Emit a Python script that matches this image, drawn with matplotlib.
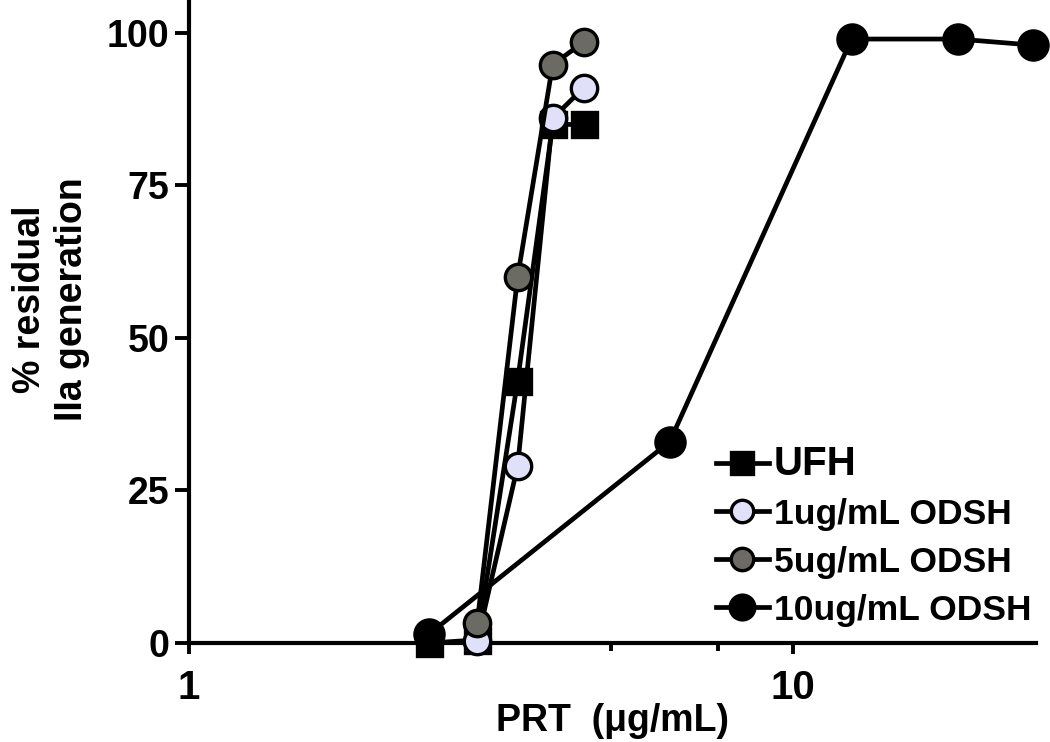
import matplotlib
matplotlib.use("Agg")
import matplotlib.pyplot as plt
from matplotlib.ticker import FixedLocator, NullFormatter

plt.rcParams['font.family'] = ['Liberation Sans', 'DejaVu Sans']

# Data (PRT concentration in ug/mL, % residual IIa generation)
ufh_x = [2.5, 3.0, 3.5, 4.0, 4.5]
ufh_y = [0.0, 0.5, 43.0, 85.0, 85.0]

odsh1_x = [3.0, 3.5, 4.0, 4.5]
odsh1_y = [0.3, 29.0, 86.0, 91.0]

odsh5_x = [3.0, 3.5, 4.0, 4.5]
odsh5_y = [3.3, 60.0, 94.8, 98.5]

odsh10_x = [2.5, 6.25, 12.5, 18.75, 25.0]
odsh10_y = [1.5, 33.0, 99.0, 99.0, 98.0]

labels = ["UFH", "1ug/mL ODSH", "5ug/mL ODSH", "10ug/mL ODSH"]

fig = plt.figure(figsize=(10.5, 7.42), dpi=100)
ax = fig.add_axes([189/1050, 1-643/742, (1036-189)/1050, 643/742])

lw = 3.4
mew = 2.4
ax.plot(ufh_x, ufh_y, color='black', lw=lw, marker='s', ms=18, mfc='black',
        mec='black', mew=mew, clip_on=False, label=labels[0], zorder=3)
ax.plot(odsh1_x, odsh1_y, color='black', lw=lw, marker='o', ms=19, mfc='#e0e0f8',
        mec='black', mew=mew, clip_on=False, label=labels[1], zorder=4)
ax.plot(odsh5_x, odsh5_y, color='black', lw=lw, marker='o', ms=19, mfc='#6b6b64',
        mec='black', mew=mew, clip_on=False, label=labels[2], zorder=5)
ax.plot(odsh10_x, odsh10_y, color='black', lw=lw, marker='o', ms=21, mfc='black',
        mec='black', mew=mew, clip_on=False, label=labels[3], zorder=6)

ax.set_xscale('log')
ax.set_xlim(1, 25.25)
ax.set_ylim(0, 105.4)

ax.xaxis.set_major_locator(FixedLocator([1, 10]))
ax.set_xticklabels(['1', '10'])
ax.xaxis.set_minor_locator(FixedLocator([2.5, 5, 7.5]))
ax.xaxis.set_minor_formatter(NullFormatter())
ax.set_yticks([0, 25, 50, 75, 100])
ax.set_yticklabels(['0', '25', '50', '75', '100'])

for s in ['top', 'right']:
    ax.spines[s].set_visible(False)
for s in ['left', 'bottom']:
    ax.spines[s].set_linewidth(3.0)

ax.tick_params(axis='y', which='major', direction='out', length=10, width=2.8,
               labelsize=27, pad=4)
ax.tick_params(axis='x', which='major', direction='out', length=8, width=2.8,
               labelsize=29, pad=11)
ax.tick_params(axis='x', which='minor', direction='out', length=6, width=2.8)
for t in ax.get_xticklabels() + ax.get_yticklabels():
    t.set_fontweight('bold')

ax.set_xlabel('PRT  (\u03bcg/mL)', fontsize=27, fontweight='bold')
ax.xaxis.set_label_coords(0.5, -0.093)
ax.set_ylabel('% residual\nIIa generation', fontsize=27, fontweight='bold',
              linespacing=1.2)
ax.yaxis.set_label_coords(-0.117, 0.535)

leg = ax.legend(loc='upper left', bbox_to_anchor=(0.605, 0.33), frameon=False,
                fontsize=25.5, handlelength=1.5, handletextpad=0.15,
                labelspacing=0.42, markerscale=0.85, borderaxespad=0)
for i, t in enumerate(leg.get_texts()):
    t.set_fontweight('bold')
    if i == 0:
        t.set_fontsize(29)

fig.savefig('out.png', dpi=100)
